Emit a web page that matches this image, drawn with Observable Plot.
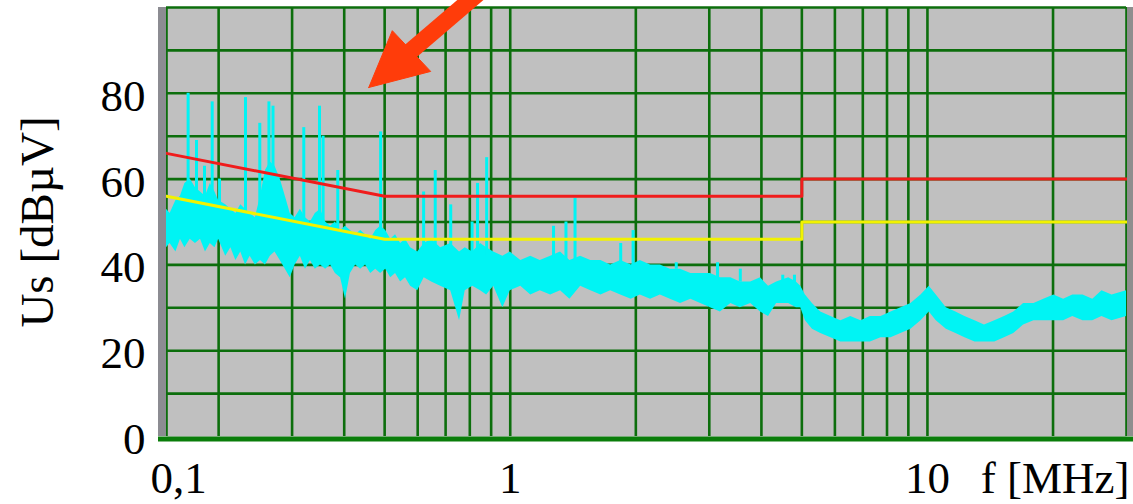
<!DOCTYPE html>
<html>
<head>
<meta charset="utf-8">
<script src="https://cdn.jsdelivr.net/npm/d3@7"></script>
<script src="https://cdn.jsdelivr.net/npm/@observablehq/plot@0.6"></script>
<style>
  body { margin: 0; background: #fff; }
  #chart svg { display: block; }
  #chart svg text { font-family: "Liberation Serif", "Times New Roman", serif; }
</style>
</head>
<body>
<div id="chart"></div>
<script>
// ---- axis / grid values ----
const freqGrid = [0.15, 0.2, 0.3, 0.4, 0.5, 0.6, 0.7, 0.8, 0.9, 1, 2, 3, 4, 5, 6, 7, 8, 9, 10, 20, 30];
const levelGrid = [10, 20, 30, 40, 50, 60, 70, 80, 90, 100];
const yTicks = [0, 20, 40, 60, 80];
const xTicks = [1, 10];
const xStartTick = [0.15];
const xStartLabel = "0,1";
const xLabel = ["f [MHz]"];
const yLabel = ["Us [dBµV]"];

// ---- measured spectrum: noise band (MHz, dBµV low / high) ----
const bandF  = [0.150,0.153,0.158,0.162,0.166,0.171,0.176,0.181,0.186,0.191,0.196,0.200,0.208,0.214,0.220,0.226,0.232,0.238,0.245,0.252,0.259,0.266,0.273,0.281,0.289,0.297,0.305,0.314,0.323,0.332,0.341,0.351,0.361,0.371,0.381,0.392,0.403,0.414,0.426,0.438,0.450,0.463,0.476,0.489,0.503,0.517,0.531,0.546,0.561,0.577,0.600,0.622,0.648,0.681,0.720,0.756,0.780,0.813,0.849,0.878,0.913,0.960,1.00,1.06,1.12,1.18,1.25,1.32,1.39,1.475,1.56,1.65,1.74,1.84,1.95,2.05,2.17,2.29,2.42,2.56,2.71,2.86,3.02,3.19,3.38,3.56,3.77,3.98,4.16,4.35,4.65,4.85,4.97,5.1,5.3,5.55,5.87,6.2,6.55,6.93,7.3,7.74,8.18,8.64,9.13,9.65,10.1,10.5,11.1,11.7,12.3,13.0,13.7,14.5,15.3,16.1,17.0,18.0,19.0,20.1,21.2,22.3,23.6,24.9,26.2,27.7,30];
const bandLo = [44,45,43,46,44,46,45,46,43,45,44,46,42,44,41,43,40,42,40,41,40,42,43,41,39,37,40,42,39,41,39,40,39,40,38,37,32,38,40,39,40,38,39,38,39,37,38,36,37,35,34,37,36,35,34,27,34,35,34,33,35,30,34,35,33,34,33,34,32,35,34,33,34,33,32,33,32,33,32,31,32,31,30,29,31,30,31,29,28,31,31,30,30,27,25,24,23,22,22,22,22,23,23,24,25,27,29,27,25,24,23,22,22,22,23,24,26,27,27,27,27,28,27,27,28,27,28];
const bandHi = [53,52,55,56,59,60,58,57,56,59,57,55,54,53,52,54,53,52,51,56,62,64,63,60,56,52,51,53,51,50,52,53,50,49,50,48,49,48,47,48,47,46,48,49,48,46,47,45,46,44,43,45,46,44,45,43,44,43,45,44,43,42,43,41,42,41,42,43,41,42,41,41,40,41,40,41,40,40,39,39,38,38,38,37,37,36,36,37,35,36,37,36,35,33,31,29,28,27,28,27,28,28,29,30,31,33,35,33,30,29,28,27,26,27,28,29,31,31,32,33,32,33,33,32,34,33,34];

// ---- measured spectrum: narrow peaks (MHz, base dBµV, peak dBµV) ----
const spikeF    = [0.169,0.177,0.185,0.193,0.201,0.232,0.251,0.264,0.270,0.320,0.349,0.356,0.386,0.489,0.620,0.661,0.720,0.810,0.835,0.878,1.27,1.36,1.43,1.84,1.97,2.5,3.14,3.56,4.5,4.8];
const spikeBase = [55,55,55,55,54,52,52,60,60,50,50,50,48,46,44,44,44,42,42,42,41,41,41,40,40,39,37,36,35,35];
const spikeTop  = [80,69,63,78,60,79,73,78,77,72,77,70,62,71,57,62,54,50,59,65,49,50,55.5,45,48,40.5,40.5,39,37.6,37.6];

// ---- limit lines (MHz, dBµV) ----
const limitF   = [0.15, 0.5, 5, 5, 30];
const qpLimit  = [66, 56, 56, 60, 60];
const avLimit  = [56, 46, 46, 50, 50];

// ---- annotation arrow (MHz, dBµV) ----
const arrowShaftF = [0.561, 0.854];
const arrowShaftV = [88.8, 104];
const arrowHeadF  = [0.458, 0.5216, 0.6446, 0.458];
const arrowHeadV  = [81.35, 94.6, 85.1, 81.35];

// ---- build tables ----
const band = bandF.map((f, i) => ({f, lo: bandLo[i], hi: bandHi[i]}));
const spikes = spikeF.map((f, i) => ({f, base: spikeBase[i], top: spikeTop[i]}));
const qp = limitF.map((f, i) => ({f, v: qpLimit[i]}));
const av = limitF.map((f, i) => ({f, v: avLimit[i]}));
const shaft = arrowShaftF.map((f, i) => ({f, v: arrowShaftV[i]}));
const head = arrowHeadF.map((f, i) => ({f, v: arrowHeadV[i]}));

const FONT = "'Liberation Serif', 'Times New Roman', serif";
const GRID = "#0c6e0c";
const CYAN = "#00f4f4";
const ARROW = "#ff3c0a";

const chart = Plot.plot({
  width: 1133,
  height: 504,
  marginLeft: 166,
  marginRight: 7,
  marginTop: 7,
  marginBottom: 68,
  x: {type: "log", domain: [0.15, 30], axis: null, label: null},
  y: {domain: [0, 100], axis: null, label: null},
  style: {background: "#fff", fontFamily: FONT, fontSize: "45px", color: "#000"},
  marks: [
    Plot.frame({fill: "#c0c0c0", stroke: null}),
    Plot.ruleX(freqGrid, {stroke: GRID, strokeWidth: 2.6}),
    Plot.ruleY(levelGrid, {stroke: GRID, strokeWidth: 2.6}),
    Plot.areaY(band, {x: "f", y1: "lo", y2: "hi", fill: CYAN, curve: "linear"}),
    Plot.ruleX(spikes, {x: "f", y1: "base", y2: "top", stroke: CYAN, strokeWidth: 3}),
    Plot.line(qp, {x: "f", y: "v", stroke: "#f01c1c", strokeWidth: 3, curve: "linear"}),
    Plot.line(av, {x: "f", y: "v", stroke: "#f2f200", strokeWidth: 3, curve: "linear"}),
    Plot.ruleX([0.15], {stroke: "#8c8c92", strokeWidth: 8, dx: -4.5}),
    Plot.ruleX([30], {stroke: "#8e8e8e", strokeWidth: 6, dx: 3.5}),
    Plot.ruleY([0], {stroke: "#0a7d0a", strokeWidth: 5, dy: 2.5, insetLeft: -8, insetRight: -8}),
    Plot.axisY(yTicks, {tickSize: 0, tickPadding: 21, dy: 3, fontSize: 45, fontFamily: FONT, label: null}),
    Plot.axisX(xTicks, {tickSize: 0, tickPadding: 25, fontSize: 45, fontFamily: FONT, label: null, tickFormat: d => String(d)}),
    Plot.axisX(xStartTick, {tickSize: 0, tickPadding: 25, fontSize: 45, fontFamily: FONT, label: null, tickFormat: () => xStartLabel, textAnchor: "start", dx: -16}),
    Plot.text(xLabel, {text: d => d, frameAnchor: "bottom-right", textAnchor: "end", lineAnchor: "middle", dy: 42, dx: 3, fontSize: 45, fontFamily: FONT, fill: "#000"}),
    Plot.text(yLabel, {text: d => d, frameAnchor: "left", rotate: -90, textAnchor: "middle", lineAnchor: "middle", dx: -129, fontSize: 47, fontFamily: FONT, fill: "#000"}),
    Plot.line(shaft, {x: "f", y: "v", stroke: ARROW, strokeWidth: 17, strokeLinecap: "butt", curve: "linear"}),
    Plot.line(head, {x: "f", y: "v", fill: ARROW, stroke: ARROW, strokeWidth: 1, curve: "linear"})
  ]
});
document.getElementById("chart").appendChild(chart);
</script>
</body>
</html>
